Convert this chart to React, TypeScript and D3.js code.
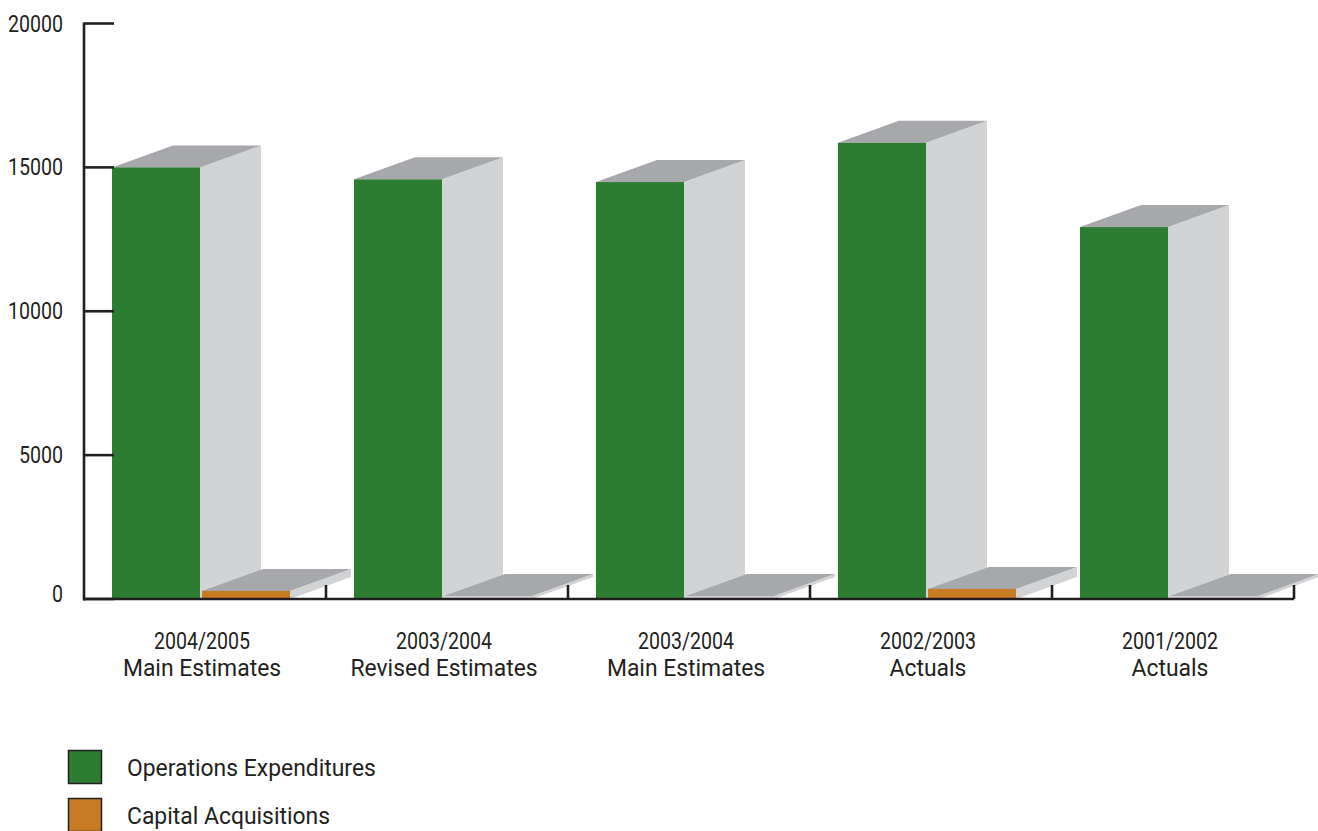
import React from "react";
import * as d3 from "d3";

const categoryYears = ["2004/2005", "2003/2004", "2003/2004", "2002/2003", "2001/2002"];
const categoryNames = ["Main Estimates", "Revised Estimates", "Main Estimates", "Actuals", "Actuals"];
const operations = [15000, 14585, 14490, 15855, 12925];
const capital = [280, 0, 0, 350, 0];
const yTicks = [0, 5000, 10000, 15000, 20000];
const seriesNames = ["Operations Expenditures", "Capital Acquisitions"];

const W = 1318;
const H = 831;
const FONT = "Roboto, 'Liberation Sans', sans-serif";
const FS = 24.5;
const SX_DIGITS = 0.8;
const SX_WORDS = 0.935;
const GREEN = "#2c7c32";
const ORANGE = "#c77b22";
const TOP = "#a7a8ab";
const SIDE = "#d2d3d5";
const AXIS = "#231f20";

const DX = 61;
const DY = 22;
const BAR_W = 88;
const OFFSET = 28;
const GAP = 2;

function Box({ x0, yTop, yBase, fill, minThick = 0 }: { x0: number; yTop: number; yBase: number; fill: string; minThick?: number }) {
  const top = Math.min(yTop, yBase - minThick);
  const x1 = x0 + BAR_W;
  const frontFill = yBase - yTop > 0.5 ? fill : SIDE;
  const topFace = `M${x0},${top}L${x0 + DX},${top - DY}L${x1 + DX},${top - DY}L${x1},${top}Z`;
  const sideFace = `M${x1},${top}L${x1 + DX},${top - DY}L${x1 + DX},${yBase - DY}L${x1},${yBase}Z`;
  return (
    <g>
      <path d={sideFace} fill={SIDE} />
      <path d={topFace} fill={TOP} />
      <rect x={x0} y={top} width={BAR_W} height={yBase - top} fill={frontFill} />
    </g>
  );
}

function NText({ x, y, anchor = "start", text }: { x: number; y: number; anchor?: string; text: string }) {
  const sx = /^[0-9/]+$/.test(text) ? SX_DIGITS : SX_WORDS;
  return (
    <g transform={`translate(${x},${y}) scale(${sx},1)`}>
      <text textAnchor={anchor} fontSize={FS} fill={AXIS} fontFamily={FONT}>
        {text}
      </text>
    </g>
  );
}

export default function App() {
  const idx = categoryYears.map((_, i) => i);
  const x = d3.scaleBand<number>().domain(idx).range([84, 1294]).paddingInner(0).paddingOuter(0);
  const y = d3.scaleLinear().domain([0, 20000]).range([599, 23.5]);
  const y0 = y(0);

  return (
    <svg width={W} height={H} style={{ position: "absolute", left: 0, top: 0, background: "#fff" }} fontFamily={FONT}>
      {idx.map((i) => {
        const bx = (x(i) as number) + OFFSET;
        return (
          <g key={i}>
            <Box x0={bx} yTop={y(operations[i])} yBase={y0} fill={GREEN} />
            <Box x0={bx + BAR_W + GAP} yTop={y(capital[i])} yBase={y0} fill={ORANGE} minThick={3} />
          </g>
        );
      })}

      {/* Y axis */}
      <line x1={84} x2={84} y1={y(20000) - 1} y2={y0 + 1.5} stroke={AXIS} strokeWidth={2.6} />
      {yTicks.map((t) => (
        <g key={t}>
          <line x1={84} x2={114} y1={y(t)} y2={y(t)} stroke={AXIS} strokeWidth={2.6} />
          <NText x={63} y={y(t) + (t === 0 ? 3 : 8)} anchor="end" text={String(t)} />
        </g>
      ))}

      {/* X axis */}
      <line x1={84} x2={1294} y1={y0} y2={y0} stroke={AXIS} strokeWidth={2.6} />
      {idx.map((i) => {
        const xr = (x(i) as number) + x.bandwidth();
        return <line key={i} x1={xr} x2={xr} y1={y0} y2={y0 - 14} stroke={AXIS} strokeWidth={2.6} />;
      })}
      {idx.map((i) => {
        const cx = (x(i) as number) + x.bandwidth() / 2 - 3;
        return (
          <g key={i}>
            <NText x={cx} y={649} anchor="middle" text={categoryYears[i]} />
            <NText x={cx} y={675.5} anchor="middle" text={categoryNames[i]} />
          </g>
        );
      })}

      {/* Legend */}
      {seriesNames.map((s, i) => (
        <g key={s}>
          <rect x={68.5} y={750.5 + i * 48} width={33} height={33} fill={i === 0 ? GREEN : ORANGE} stroke={AXIS} strokeWidth={1.5} />
          <NText x={127} y={775.5 + i * 48} text={s} />
        </g>
      ))}
    </svg>
  );
}
